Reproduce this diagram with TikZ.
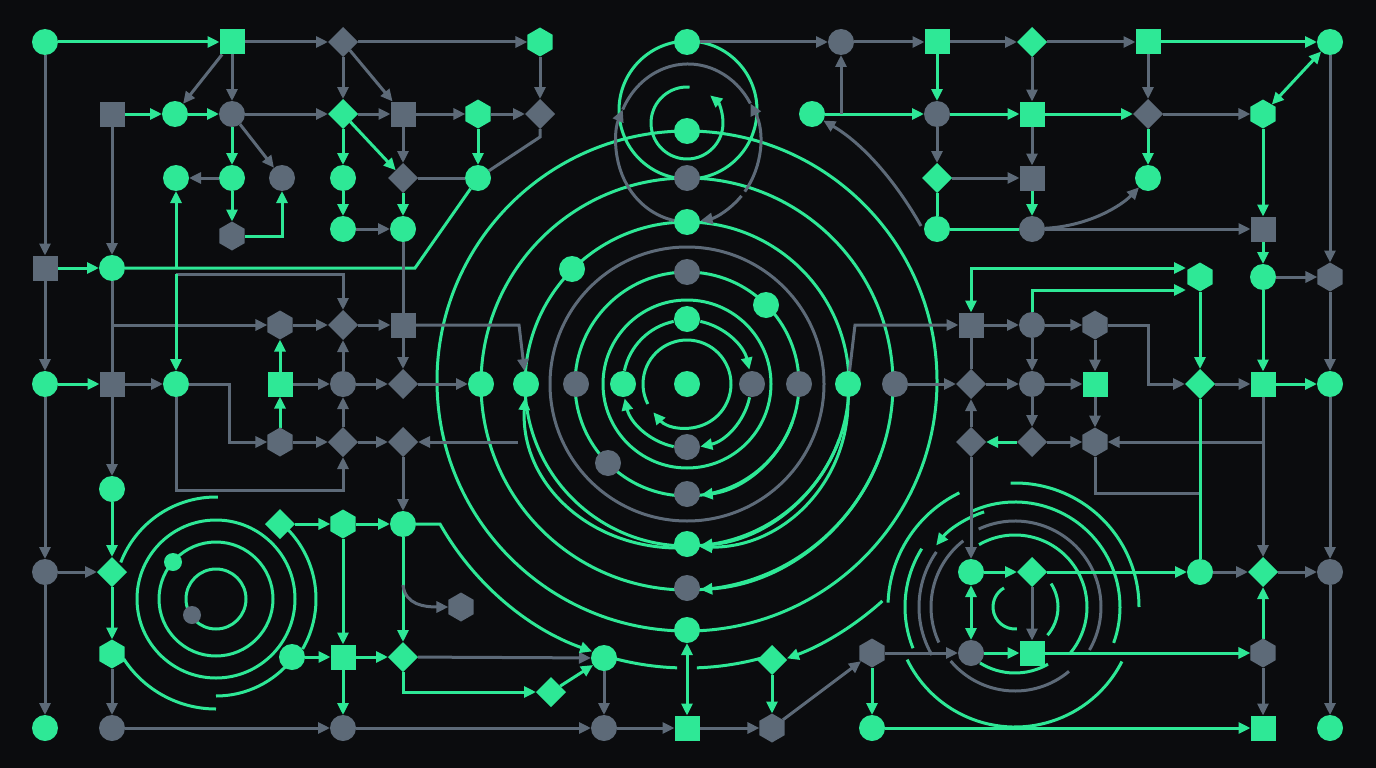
\documentclass[tikz,border=0pt]{standalone}
\usetikzlibrary{arrows.meta,shapes.geometric}
\pgfdeclarelayer{back}
\pgfdeclarelayer{bg}
\pgfsetlayers{back,bg,main}
\definecolor{G}{RGB}{46,232,150}
\definecolor{K}{RGB}{93,106,120}
\definecolor{BG}{RGB}{11,12,14}
\tikzset{
  nd/.style={draw=none, inner sep=0pt, outer sep=0pt},
  gc/.style={nd, circle, fill=G, minimum size=26pt},
  kc/.style={nd, circle, fill=K, minimum size=26pt},
  gcs/.style={nd, circle, fill=G, minimum size=18pt},
  kcs/.style={nd, circle, fill=K, minimum size=18pt},
  gs/.style={nd, rectangle, fill=G, minimum size=25pt},
  ks/.style={nd, rectangle, fill=K, minimum size=25pt},
  gd/.style={nd, diamond, fill=G, minimum size=30pt},
  kd/.style={nd, diamond, fill=K, minimum size=30pt},
  gh/.style={nd, regular polygon, regular polygon sides=6, shape border rotate=30, fill=G, minimum size=29pt},
  kh/.style={nd, regular polygon, regular polygon sides=6, shape border rotate=30, fill=K, minimum size=29pt},
  ln/.style={line width=3pt},
  gl/.style={ln, draw=G},
  kl/.style={ln, draw=K},
  >={Triangle[length=12pt,width=11pt]},
  ga/.style={gl, ->},
  gaa/.style={gl, <->},
  ka/.style={kl, ->},
}
\begin{document}
\begin{tikzpicture}[x=1pt,y=-1pt]
\useasboundingbox (0,0) rectangle (1376,768);
\begin{pgfonlayer}{back}
\fill[BG] (0,0) rectangle (1376,768);
\end{pgfonlayer}
% ---------- top-left nodes
\node[gc] (tl1) at (45,42) {};
\node[gs] (tl2) at (232,42) {};
\node[kd] (tl3) at (343,42) {};
\node[gh] (tl4) at (540,42) {};
\node[ks] (tl5) at (112,114) {};
\node[gc] (tl6) at (175,114) {};
\node[kc] (tl7) at (232,114) {};
\node[gd] (tl8) at (343,114) {};
\node[ks] (tl9) at (403,114) {};
\node[gh] (tl10) at (478,114) {};
\node[kd] (tl11) at (540,114) {};
\node[gc] (tl12) at (176,178) {};
\node[gc] (tl13) at (232,178) {};
\node[kc] (tl14) at (282,178) {};
\node[gc] (tl15) at (343,178) {};
\node[kd] (tl16) at (403,178) {};
\node[gc] (tl17) at (478,178) {};
\node[kh] (tl18) at (232,236) {};
\node[gc] (tl19) at (343,229) {};
\node[gc] (tl20) at (403,229) {};
% ---------- left middle
\node[ks] (l1) at (45,268) {};
\node[gc] (l2) at (112,268) {};
\node[gc] (l3) at (45,384) {};
\node[ks] (l4) at (112,384) {};
\node[gc] (l5) at (176,384) {};
\node[kh] (l6) at (280,325) {};
\node[kd] (l7) at (343,325) {};
\node[ks] (l8) at (403,325) {};
\node[gs] (l9) at (280,384) {};
\node[kc] (l10) at (343,384) {};
\node[kd] (l11) at (403,384) {};
\node[kh] (l12) at (280,442) {};
\node[kd] (l13) at (343,442) {};
\node[kd] (l14) at (403,442) {};
\node[gc] (l15) at (112,489) {};
% ---------- bottom left
\node[kc] (b1) at (45,572) {};
\node[gd] (b2) at (112,572) {};
\node[gh] (b3) at (112,654) {};
\node[gc] (b4) at (45,728) {};
\node[kc] (b5) at (112,728) {};
\node[gd] (b6) at (280,524) {};
\node[gh] (b7) at (343,524) {};
\node[gc] (b8) at (403,524) {};
\node[gc] (b9) at (292,657) {};
\node[gs] (b10) at (343,657) {};
\node[gd] (b11) at (403,657) {};
\node[kc] (b12) at (343,728) {};
\node[gcs] (b13) at (173,562) {};
\node[kcs] (b14) at (192,615) {};
% ---------- bottom centre
\node[kh] (c1) at (461,607) {};
\node[gc] (c2) at (604,658) {};
\node[gd] (c3) at (551,692) {};
\node[kc] (c4) at (604,728) {};
\node[gs] (c5) at (687,728) {};
\node[kh] (c6) at (772,728) {};
\node[gd] (c7) at (772,660) {};
% ---------- centre rings nodes
\node[gc] (r0) at (687,384) {};
\node[gc] (r1t) at (687,319) {};
\node[gc] (r1l) at (623,384) {};
\node[kc] (r1r) at (752,384) {};
\node[kc] (r1b) at (687,447) {};
\node[kc] (r2t) at (687,272) {};
\node[gc] (r2a) at (766,305) {};
\node[kc] (r2r) at (799,384) {};
\node[kc] (r2b) at (687,494) {};
\node[kc] (r2c) at (608,463) {};
\node[kc] (r2l) at (576,384) {};
\node[gc] (r3l) at (526,384) {};
\node[gc] (r3r) at (848,384) {};
\node[gc] (r3t) at (687,222) {};
\node[gc] (r3b) at (687,544) {};
\node[gc] (r3a) at (572,269) {};
\node[gc] (r4l) at (481,384) {};
\node[kc] (r4t) at (687,178) {};
\node[kc] (r4r) at (895,384) {};
\node[kc] (r4b) at (687,588) {};
\node[gc] (r5t) at (687,131) {};
\node[gc] (r5b) at (687,630) {};
\node[gc] (u1) at (687,42) {};
% ---------- top right
\node[kc] (tr1) at (841,42) {};
\node[gs] (tr2) at (937,42) {};
\node[gd] (tr3) at (1032,42) {};
\node[gs] (tr4) at (1148,42) {};
\node[gc] (tr5) at (1330,42) {};
\node[gc] (tr6) at (812,114) {};
\node[kc] (tr7) at (937,114) {};
\node[gs] (tr8) at (1032,114) {};
\node[kd] (tr9) at (1148,114) {};
\node[gh] (tr10) at (1263,114) {};
\node[gd] (tr11) at (937,178) {};
\node[ks] (tr12) at (1032,178) {};
\node[gc] (tr13) at (1148,178) {};
\node[gc] (tr14) at (937,229) {};
\node[kc] (tr15) at (1032,229) {};
\node[ks] (tr16) at (1263,229) {};
% ---------- right middle
\node[gh] (rm1) at (1200,277) {};
\node[gc] (rm2) at (1263,277) {};
\node[kh] (rm3) at (1330,277) {};
\node[ks] (rm4) at (971,325) {};
\node[kc] (rm5) at (1032,325) {};
\node[kh] (rm6) at (1095,325) {};
\node[kd] (rm7) at (971,384) {};
\node[kc] (rm8) at (1032,384) {};
\node[gs] (rm9) at (1095,384) {};
\node[gd] (rm10) at (1200,384) {};
\node[gs] (rm11) at (1263,384) {};
\node[gc] (rm12) at (1330,384) {};
\node[kd] (rm13) at (971,442) {};
\node[kd] (rm14) at (1032,442) {};
\node[kh] (rm15) at (1095,442) {};
% ---------- bottom right
\node[gc] (br1) at (971,572) {};
\node[gd] (br2) at (1032,572) {};
\node[gc] (br3) at (1200,572) {};
\node[gd] (br4) at (1263,572) {};
\node[kc] (br5) at (1330,572) {};
\node[kh] (br6) at (872,653) {};
\node[kc] (br7) at (971,653) {};
\node[gs] (br8) at (1032,653) {};
\node[kh] (br9) at (1263,653) {};
\node[gc] (br10) at (872,728) {};
\node[gs] (br11) at (1263,728) {};
\node[gc] (br12) at (1330,728) {};

\begin{pgfonlayer}{bg}
% ===== central concentric rings
\draw[ga] ([shift={(687,384)}]153:44) arc[start angle=153,end angle=500,radius=44];
\draw[ga] ([shift={(687,384)}]282:64) arc[start angle=282,end angle=347,radius=64];
\draw[ga] ([shift={(687,384)}]12:64) arc[start angle=12,end angle=78,radius=64];
\draw[ga] ([shift={(687,384)}]102:64) arc[start angle=102,end angle=167,radius=64];
\draw[gl] ([shift={(687,384)}]192:64) arc[start angle=192,end angle=258,radius=64];
\draw[gl] (687,384) circle[radius=84];
\draw[gl] (687,384) circle[radius=112];
\draw[ga] ([shift={(687,384)}]20:112) arc[start angle=20,end angle=83,radius=112];
\draw[kl] (687,384) circle[radius=137];
\draw[gl] (687,384) circle[radius=162];
\draw[ga] ([shift={(687,384)}]20:162) arc[start angle=20,end angle=85.3,radius=162];
\draw[gl] (687,384) circle[radius=206];
\draw[ga] ([shift={(687,384)}]20:206) arc[start angle=20,end angle=86.3,radius=206];
\draw[gl] (687,381) circle[radius=250];
\draw[ga] (675,548) .. controls (585,546) and (520,480) .. (525,398);
\draw[ga] (848,397) .. controls (850,480) and (785,548) .. (700,547);
\draw[gl] ([shift={(687,384)}]106:284) arc[start angle=106,end angle=92,radius=284];
\draw[gl] ([shift={(687,384)}]88:284) arc[start angle=88,end angle=75,radius=284];
\draw[ga] ([shift={(687,384)}]48:292) arc[start angle=48,end angle=70,radius=292];
% ===== upper small rings
\draw[gl] (688,110) circle[radius=69];
\draw[ka] ([shift={(688,143)}]100:72 and 79) arc[start angle=100,end angle=205,x radius=72,y radius=79];
\draw[kl] ([shift={(688,143)}]205:72 and 79) arc[start angle=205,end angle=330,x radius=72,y radius=79];
\draw[ka] ([shift={(688,143)}]38:72 and 79) arc[start angle=38,end angle=-30,x radius=72,y radius=79];
\draw[ka] ([shift={(688,143)}]42:72 and 79) arc[start angle=42,end angle=80,x radius=72,y radius=79];
\draw[ga] ([shift={(687,123)}]274:36) arc[start angle=274,end angle=-50,radius=36];
% ===== bottom-left spiral
\draw[gl] (216,599) circle[radius=30];
\draw[gl] (216,599) circle[radius=57];
\draw[gl] (216,599) circle[radius=79];
\draw[gl] ([shift={(216,599)}]201:102) arc[start angle=201,end angle=271,radius=102];
\draw[gl] ([shift={(216,599)}]147:110) arc[start angle=147,end angle=90,radius=110];
\draw[gl] ([shift={(216,599)}]-45:100) arc[start angle=-45,end angle=30,radius=100];
\draw[gl] ([shift={(216,599)}]38:97) arc[start angle=38,end angle=90,radius=97];
% ===== bottom-right rings
\draw[gl] ([shift={(1015,607)}]85:22) arc[start angle=85,end angle=240,radius=22];
\draw[gl] ([shift={(1015,607)}]-33:43) arc[start angle=-33,end angle=41,radius=43];
\draw[gl] ([shift={(1015,607)}]240:72) arc[start angle=240,end angle=400,radius=72];
\draw[gl] ([shift={(1015,607)}]60:66) arc[start angle=60,end angle=122,radius=66];
\draw[kl] ([shift={(1015,607)}]245:86) arc[start angle=245,end angle=390,radius=86];
\draw[kl] ([shift={(1015,607)}]50:84) arc[start angle=50,end angle=140,radius=84];
\draw[kl] ([shift={(1015,607)}]155:84) arc[start angle=155,end angle=232,radius=84];
\draw[kl] ([shift={(1015,607)}]150:96) arc[start angle=150,end angle=215,radius=96];
\draw[gl] ([shift={(1015,607)}]245:105) arc[start angle=245,end angle=380,radius=105];
\draw[gl] ([shift={(1015,607)}]268:124) arc[start angle=268,end angle=360,radius=124];
\draw[gl] ([shift={(1015,607)}]244:127) arc[start angle=244,end angle=182,radius=127];
\draw[gl] ([shift={(1015,607)}]27:120) arc[start angle=27,end angle=154,radius=120];
\draw[ga] ([shift={(1015,607)}]252:100) arc[start angle=252,end angle=218,radius=100];
\draw[gl] ([shift={(1015,607)}]212:110) arc[start angle=212,end angle=158,radius=110];

% ===== top-left edges
\draw[ga] (tl1) -- (tl2);
\draw[ka] (tl2) -- (tl3);
\draw[ka] (tl3) -- (tl4);
\draw[ka] (tl1) -- (l1);
\draw[ka] (tl2) -- (tl6);
\draw[ka] (tl2) -- (tl7);
\draw[ka] (tl3) -- (tl8);
\draw[ka] (tl3) -- (tl9);
\draw[ga] (tl5) -- (tl6);
\draw[ga] (tl6) -- (tl7);
\draw[ka] (tl7) -- (tl8);
\draw[ka] (tl8) -- (tl9);
\draw[ka] (tl9) -- (tl10);
\draw[ka] (tl10) -- (tl11);
\draw[ka] (tl4) -- (tl11);
\draw[ka] (tl5) -- (l2);
\draw[ga] (tl7) -- (tl13);
\draw[ka] (tl7) -- (tl14);
\draw[ka] (tl13) -- (tl12);
\draw[ga] (tl13) -- (tl18);
\draw[ga] (tl18) -| (tl14);
\draw[ga] (tl8) -- (tl15);
\draw[ga] (tl8) -- (tl16);
\draw[ka] (tl9) -- (tl16);
\draw[ga] (tl15) -- (tl19);
\draw[ka] (tl19) -- (tl20);
\draw[ga] (tl16) -- (tl20);
\draw[ga] (tl10) -- (tl17);
\draw[kl] (tl16) -- (tl17);
\draw[kl] (tl11) -- (540,137) -- (tl17);
\draw[gl] (l2) -- (415,268) -- (tl17);
\draw[ga] (176,268) -- (tl12);
\draw[kl] (tl20) -- (l8);
% ===== left middle edges
\draw[ga] (l1) -- (l2);
\draw[ka] (l1) -- (l3);
\draw[ga] (l3) -- (l4);
\draw[kl] (l2) -- (l4);
\draw[ka] (l4) -- (l15);
\draw[ka] (112,325) -- (l6);
\draw[ka] (176,274) -| (l7);
\draw[ga] (176,274) -- (l5);
\draw[ka] (l6) -- (l7);
\draw[ka] (l7) -- (l8);
\draw[ga] (l9) -- (l6);
\draw[ka] (l9) -- (l10);
\draw[ka] (l10) -- (l7);
\draw[ka] (l10) -- (l11);
\draw[ka] (l8) -- (l11);
\draw[ka] (l4) -- (l5);
\draw[ka] (l5) -- (229,384) |- (l12);
\draw[ga] (l12) -- (l9);
\draw[ka] (l12) -- (l13);
\draw[ka] (l13) -- (l10);
\draw[ka] (l13) -- (l14);
\draw[ka] (l5) |- (343,490) -- (l13);
\draw[ka] (l11) -- (r4l);
\draw[ka] (518,442) -- (l14);
\draw[ka] (l14) -- (b8);
\draw[ka] (l8) -- (519,325) -- (r3l);
% ===== bottom-left edges
\draw[ka] (l3) -- (b1);
\draw[ka] (b1) -- (b2);
\draw[ka] (b1) -- (b4);
\draw[ga] (l15) -- (b2);
\draw[ga] (b2) -- (b3);
\draw[ka] (b3) -- (b5);
\draw[ka] (b5) -- (b12);
\draw[ga] (b6) -- (b7);
\draw[ga] (b7) -- (b8);
\draw[ga] (b7) -- (b10);
\draw[ga] (b8) -- (b11);
\draw[ga] (b9) -- (b10);
\draw[ga] (b10) -- (b11);
\draw[ga] (b10) -- (b12);
\draw[ka] (b12) -- (c4);
\draw[ka] (b11) -- (c2);
\draw[ga] (b11) |- (c3);
\draw[ga] (c3) -- (c2);
\draw[ka] (403,585) .. controls (405,605) and (425,607) .. (c1);
\draw[ga] (b8) -- (440,524) arc[start angle=150.4,end angle=109.5,radius=284];
% ===== bottom centre edges
\draw[ka] (c2) -- (c4);
\draw[ka] (c4) -- (c5);
\draw[ka] (c5) -- (c6);
\draw[gaa] (c5) -- (r5b);
\draw[ga] (c7) -- (c6);
\draw[ka] (c6) -- (br6);
\draw[ga] (br6) -- (br10);
\draw[ka] (br6) -- (br7);
\draw[ga] (br10) -- (br11);
% ===== top-right edges
\draw[ka] (u1) -- (tr1);
\draw[ka] (tr1) -- (tr2);
\draw[ka] (tr2) -- (tr3);
\draw[ka] (tr3) -- (tr4);
\draw[ga] (tr4) -- (tr5);
\draw[ga] (tr2) -- (tr7);
\draw[ka] (tr3) -- (tr8);
\draw[ka] (tr4) -- (tr9);
\draw[ga] (tr6) -- (tr7);
\draw[ka] (841,114) -- (tr1);
\draw[ga] (tr7) -- (tr8);
\draw[ga] (tr8) -- (tr9);
\draw[ka] (tr9) -- (tr10);
\draw[gaa] (tr5) -- (tr10);
\draw[ka] (tr5) -- (rm3);
\draw[ka] (tr7) -- (tr11);
\draw[ka] (tr8) -- (tr12);
\draw[ga] (tr9) -- (tr13);
\draw[ka] (tr11) -- (tr12);
\draw[gl] (tr11) -- (tr14);
\draw[ga] (tr12) -- (tr15);
\draw[gl] (tr14) -- (tr15);
\draw[ka] (tr15) -- (tr16);
\draw[ka] (tr15) .. controls (1090,226) and (1122,205) .. (tr13);
\draw[ka] (921,226) .. controls (895,180) and (862,143) .. (tr6);
\draw[ga] (tr10) -- (tr16);
\draw[ga] (tr16) -- (rm2);
% ===== right middle edges
\draw[gaa] (rm4) |- (1186,268);
\draw[ga] (rm5) |- (1186,290);
\draw[ka] (r3r) -- (855,325) -- (rm4);
\draw[ka] (rm4) -- (rm5);
\draw[ka] (rm5) -- (rm6);
\draw[kl] (rm4) -- (rm7);
\draw[ka] (rm5) -- (rm8);
\draw[ka] (rm6) -- (rm9);
\draw[ka] (rm6) -| (1148,384) -- (rm10);
\draw[ka] (r4r) -- (rm7);
\draw[ka] (rm7) -- (rm8);
\draw[ka] (rm8) -- (rm9);
\draw[ga] (rm1) -- (rm10);
\draw[ga] (rm2) -- (rm11);
\draw[ka] (rm2) -- (rm3);
\draw[ka] (rm3) -- (rm12);
\draw[ka] (rm10) -- (rm11);
\draw[ga] (rm11) -- (rm12);
\draw[ka] (rm9) -- (rm15);
\draw[ka] (rm8) -- (rm14);
\draw[ka] (rm13) -- (rm7);
\draw[ga] (rm14) -- (rm13);
\draw[ka] (rm14) -- (rm15);
\draw[ka] (rm11) |- (rm15);
\draw[ka] (rm11) -- (br4);
\draw[kl] (rm15) |- (1200,493);
\draw[gl] (rm10) -- (br3);
\draw[ka] (rm13) -- (br1);
\draw[ka] (rm12) -- (br5);
% ===== bottom-right edges
\draw[ga] (br1) -- (br2);
\draw[ga] (br2) -- (br3);
\draw[ka] (br3) -- (br4);
\draw[ka] (br4) -- (br5);
\draw[gaa] (br1) -- (br7);
\draw[ka] (br2) -- (br8);
\draw[ga] (br7) -- (br8);
\draw[ga] (br8) -- (br9);
\draw[ga] (br9) -- (br4);
\draw[ka] (br9) -- (br11);
\draw[ka] (br5) -- (br12);
\end{pgfonlayer}
\end{tikzpicture}
\end{document}
